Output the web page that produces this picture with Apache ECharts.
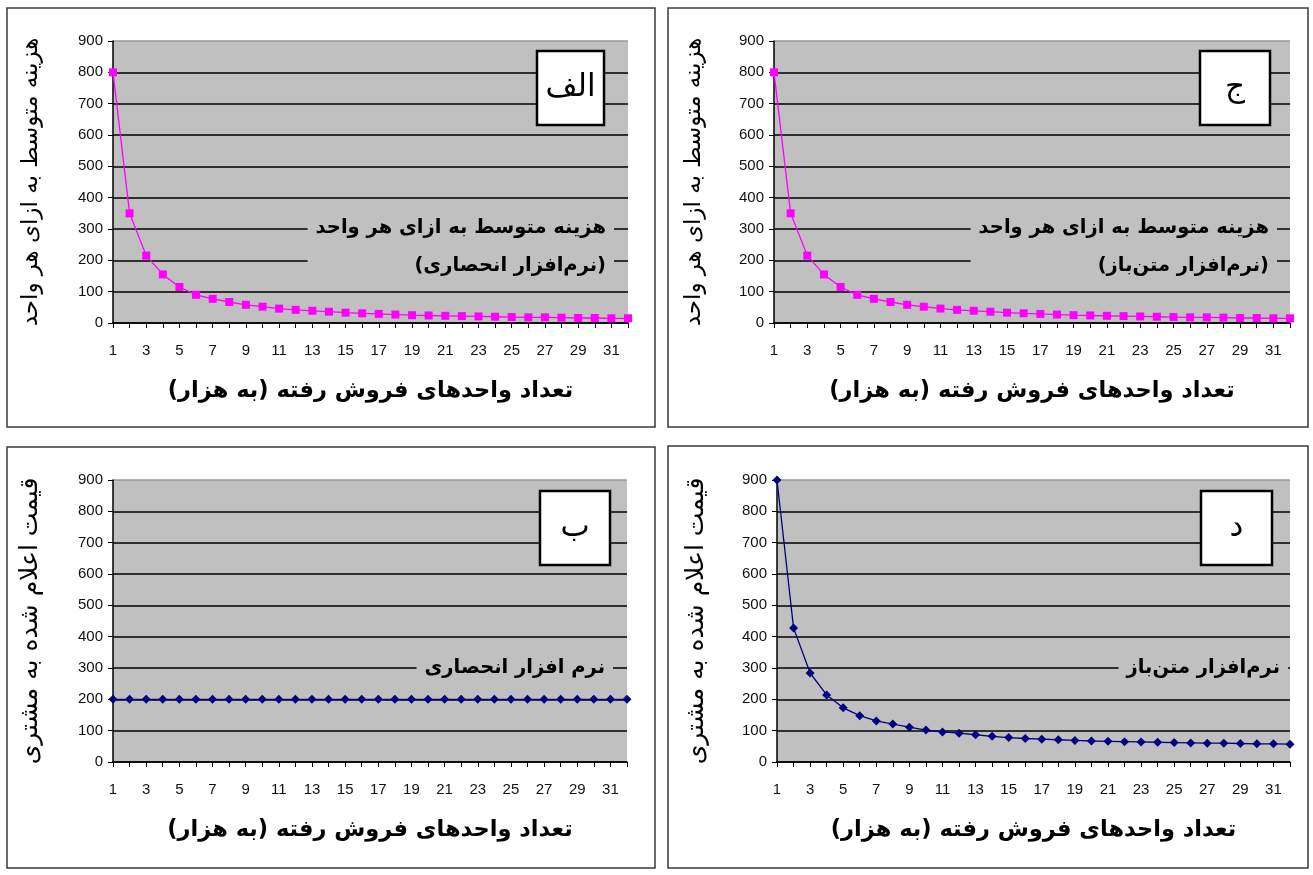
<!DOCTYPE html>
<html>
<head>
<meta charset="utf-8">
<script src="https://cdn.jsdelivr.net/npm/echarts@6/dist/echarts.min.js"></script>
<style>
html,body{margin:0;padding:0;background:#fff;}
#c{width:1313px;height:875px;}
</style>
</head>
<body>
<div id="c" dir="rtl"></div>
<script>
// ---- data ----
const units = ['1','2','3','4','5','6','7','8','9','10','11','12','13','14','15','16','17','18','19','20','21','22','23','24','25','26','27','28','29','30','31','32'];
const avgCostProprietary = [800,350,215,155,115,90,77,67,58,52,46,42,39,36,33,31,29,27,25,24,23,22,21,20,19,18,18,17,16,16,15,15];
const avgCostOpenSource  = [800,350,215,155,115,90,77,67,58,52,46,42,39,36,33,31,29,27,25,24,23,22,21,20,19,18,18,17,16,16,15,15];
const priceProprietary   = [200,200,200,200,200,200,200,200,200,200,200,200,200,200,200,200,200,200,200,200,200,200,200,200,200,200,200,200,200,200,200,200];
const priceOpenSource    = [900,428,284,214,173,148,131,121,111,102,96,92,87,82,78,75,73,71,69,67,66,65,64,63,62,61,60,60,59,58,58,57];

const yTitleCost  = 'هزینه متوسط به ازای هر واحد';
const yTitlePrice = 'قیمت اعلام شده به مشتری';
const xTitle      = 'تعداد واحدهای فروش رفته (به هزار)';
const legendTL    = 'هزینه متوسط به ازای هر واحد\n(نرم‌افزار انحصاری)';
const legendTR    = 'هزینه متوسط به ازای هر واحد\n(نرم‌افزار متن‌باز)';
const legendBL    = 'نرم افزار انحصاری';
const legendBR    = 'نرم‌افزار متن‌باز';
const panelTags   = ['الف','ج','ب','د'];

// ---- layout ----
const GRAY = '#C0C0C0';
const grids = [
  {left:113, top:41, width:515, height:282},
  {left:774, top:41, width:516, height:282},
  {left:113, top:480, width:514, height:282},
  {left:777, top:480, width:513, height:282}
];
const yTitles = [yTitleCost, yTitleCost, yTitlePrice, yTitlePrice];
const yNameGap = [70, 68, 70, 68];
const yNameSize = [23, 23, 25, 25];
const seriesData = [avgCostProprietary, avgCostOpenSource, priceProprietary, priceOpenSource];
const seriesColor = ['#FF00FF','#FF00FF','#000080','#000080'];
const seriesSymbol = ['rect','rect','diamond','diamond'];
const symbolSize = [8,8,9,9];

const splitColors = ['#000','#000','#000','#000','#000','#000','#000','#000','#000','#9a9a9a'];

const xAxes = grids.map((g,i)=>({
  type:'category', gridIndex:i, data:units, boundaryGap:false,
  axisLine:{show:true, lineStyle:{color:'#000', width:1.5}},
  axisTick:{show:true, interval:0, length:5, lineStyle:{color:'#000', width:1}},
  axisLabel:{interval:1, margin:20, color:'#111', fontFamily:'Liberation Sans, Arial', fontSize:15},
  splitLine:{show:false},
  name:xTitle, nameLocation:'middle', nameGap:57,
  nameTextStyle:{fontFamily:'DejaVu Sans', fontWeight:'bold', fontSize:22.5, color:'#000'}
}));
const yAxes = grids.map((g,i)=>({
  type:'value', gridIndex:i, min:0, max:900, interval:100,
  axisLine:{show:true, lineStyle:{color:'#000', width:1.5}},
  axisTick:{show:true, length:5, lineStyle:{color:'#000', width:1}},
  axisLabel:{margin:10, color:'#111', fontFamily:'Liberation Sans, Arial', fontSize:15},
  splitLine:{show:true, lineStyle:{color:splitColors, width:1.5}},
  name:yTitles[i], nameLocation:'middle', nameRotate:90, nameGap:yNameGap[i],
  nameTextStyle:{fontFamily:'DejaVu Sans', fontSize:yNameSize[i], color:'#000'}
}));
const series = seriesData.map((d,i)=>({
  type:'line', xAxisIndex:i, yAxisIndex:i, data:d,
  symbol:seriesSymbol[i], symbolSize:symbolSize[i],
  itemStyle:{color:seriesColor[i]},
  lineStyle:{color:seriesColor[i], width:1.3},
  animation:false, z:5
}));

// panel frames
const frames = [
  {x:7, y:8, w:648, h:419},
  {x:668, y:8, w:640, h:419},
  {x:7, y:447, w:648, h:421},
  {x:668, y:446, w:640, h:422}
];
const tagBoxes = [
  {x:537, y:51, w:67, h:74},
  {x:1200, y:51, w:70, h:74},
  {x:540, y:491, w:70, h:74},
  {x:1201, y:491, w:71, h:74}
];
const graphics = [];
frames.forEach(f=>graphics.push({type:'rect', shape:{x:f.x,y:f.y,width:f.w,height:f.h}, style:{fill:'none', stroke:'#3a3a3a', lineWidth:1.5}, z:1, silent:true}));
tagBoxes.forEach((b,i)=>{
  graphics.push({type:'rect', shape:{x:b.x,y:b.y,width:b.w,height:b.h}, style:{fill:'#fff', stroke:'#000', lineWidth:2.5}, z:100, silent:true});
  graphics.push({type:'text', x:b.x+b.w/2, y:b.y+b.h/2, style:{text:panelTags[i], font:'31px DejaVu Sans', fill:'#000', align:'center', verticalAlign:'middle'}, z:101, silent:true});
});
// in-plot series labels (gray box masks the gridlines behind them)
const legendBoxes = [
  {text:legendTL, x:614, y:209, lh:38},
  {text:legendTR, x:1277, y:209, lh:38},
  {text:legendBL, x:613, y:651, lh:34},
  {text:legendBR, x:1288, y:651, lh:34}
];
legendBoxes.forEach(L=>{
  graphics.push({type:'text', x:L.x, y:L.y, style:{text:L.text, font:'bold 19.5px DejaVu Sans', fill:'#000', align:'right', verticalAlign:'top', lineHeight:L.lh, backgroundColor:GRAY, padding:[0,8,0,8]}, z:50, silent:true});
});

const chart = echarts.init(document.getElementById('c'), null, {renderer:'canvas'});
chart.setOption({
  backgroundColor:'#fff',
  animation:false,
  grid: grids.map(g=>Object.assign({show:true, backgroundColor:GRAY, borderWidth:0, containLabel:false}, g)),
  xAxis:xAxes, yAxis:yAxes, series:series, graphic:graphics
});
</script>
</body>
</html>
